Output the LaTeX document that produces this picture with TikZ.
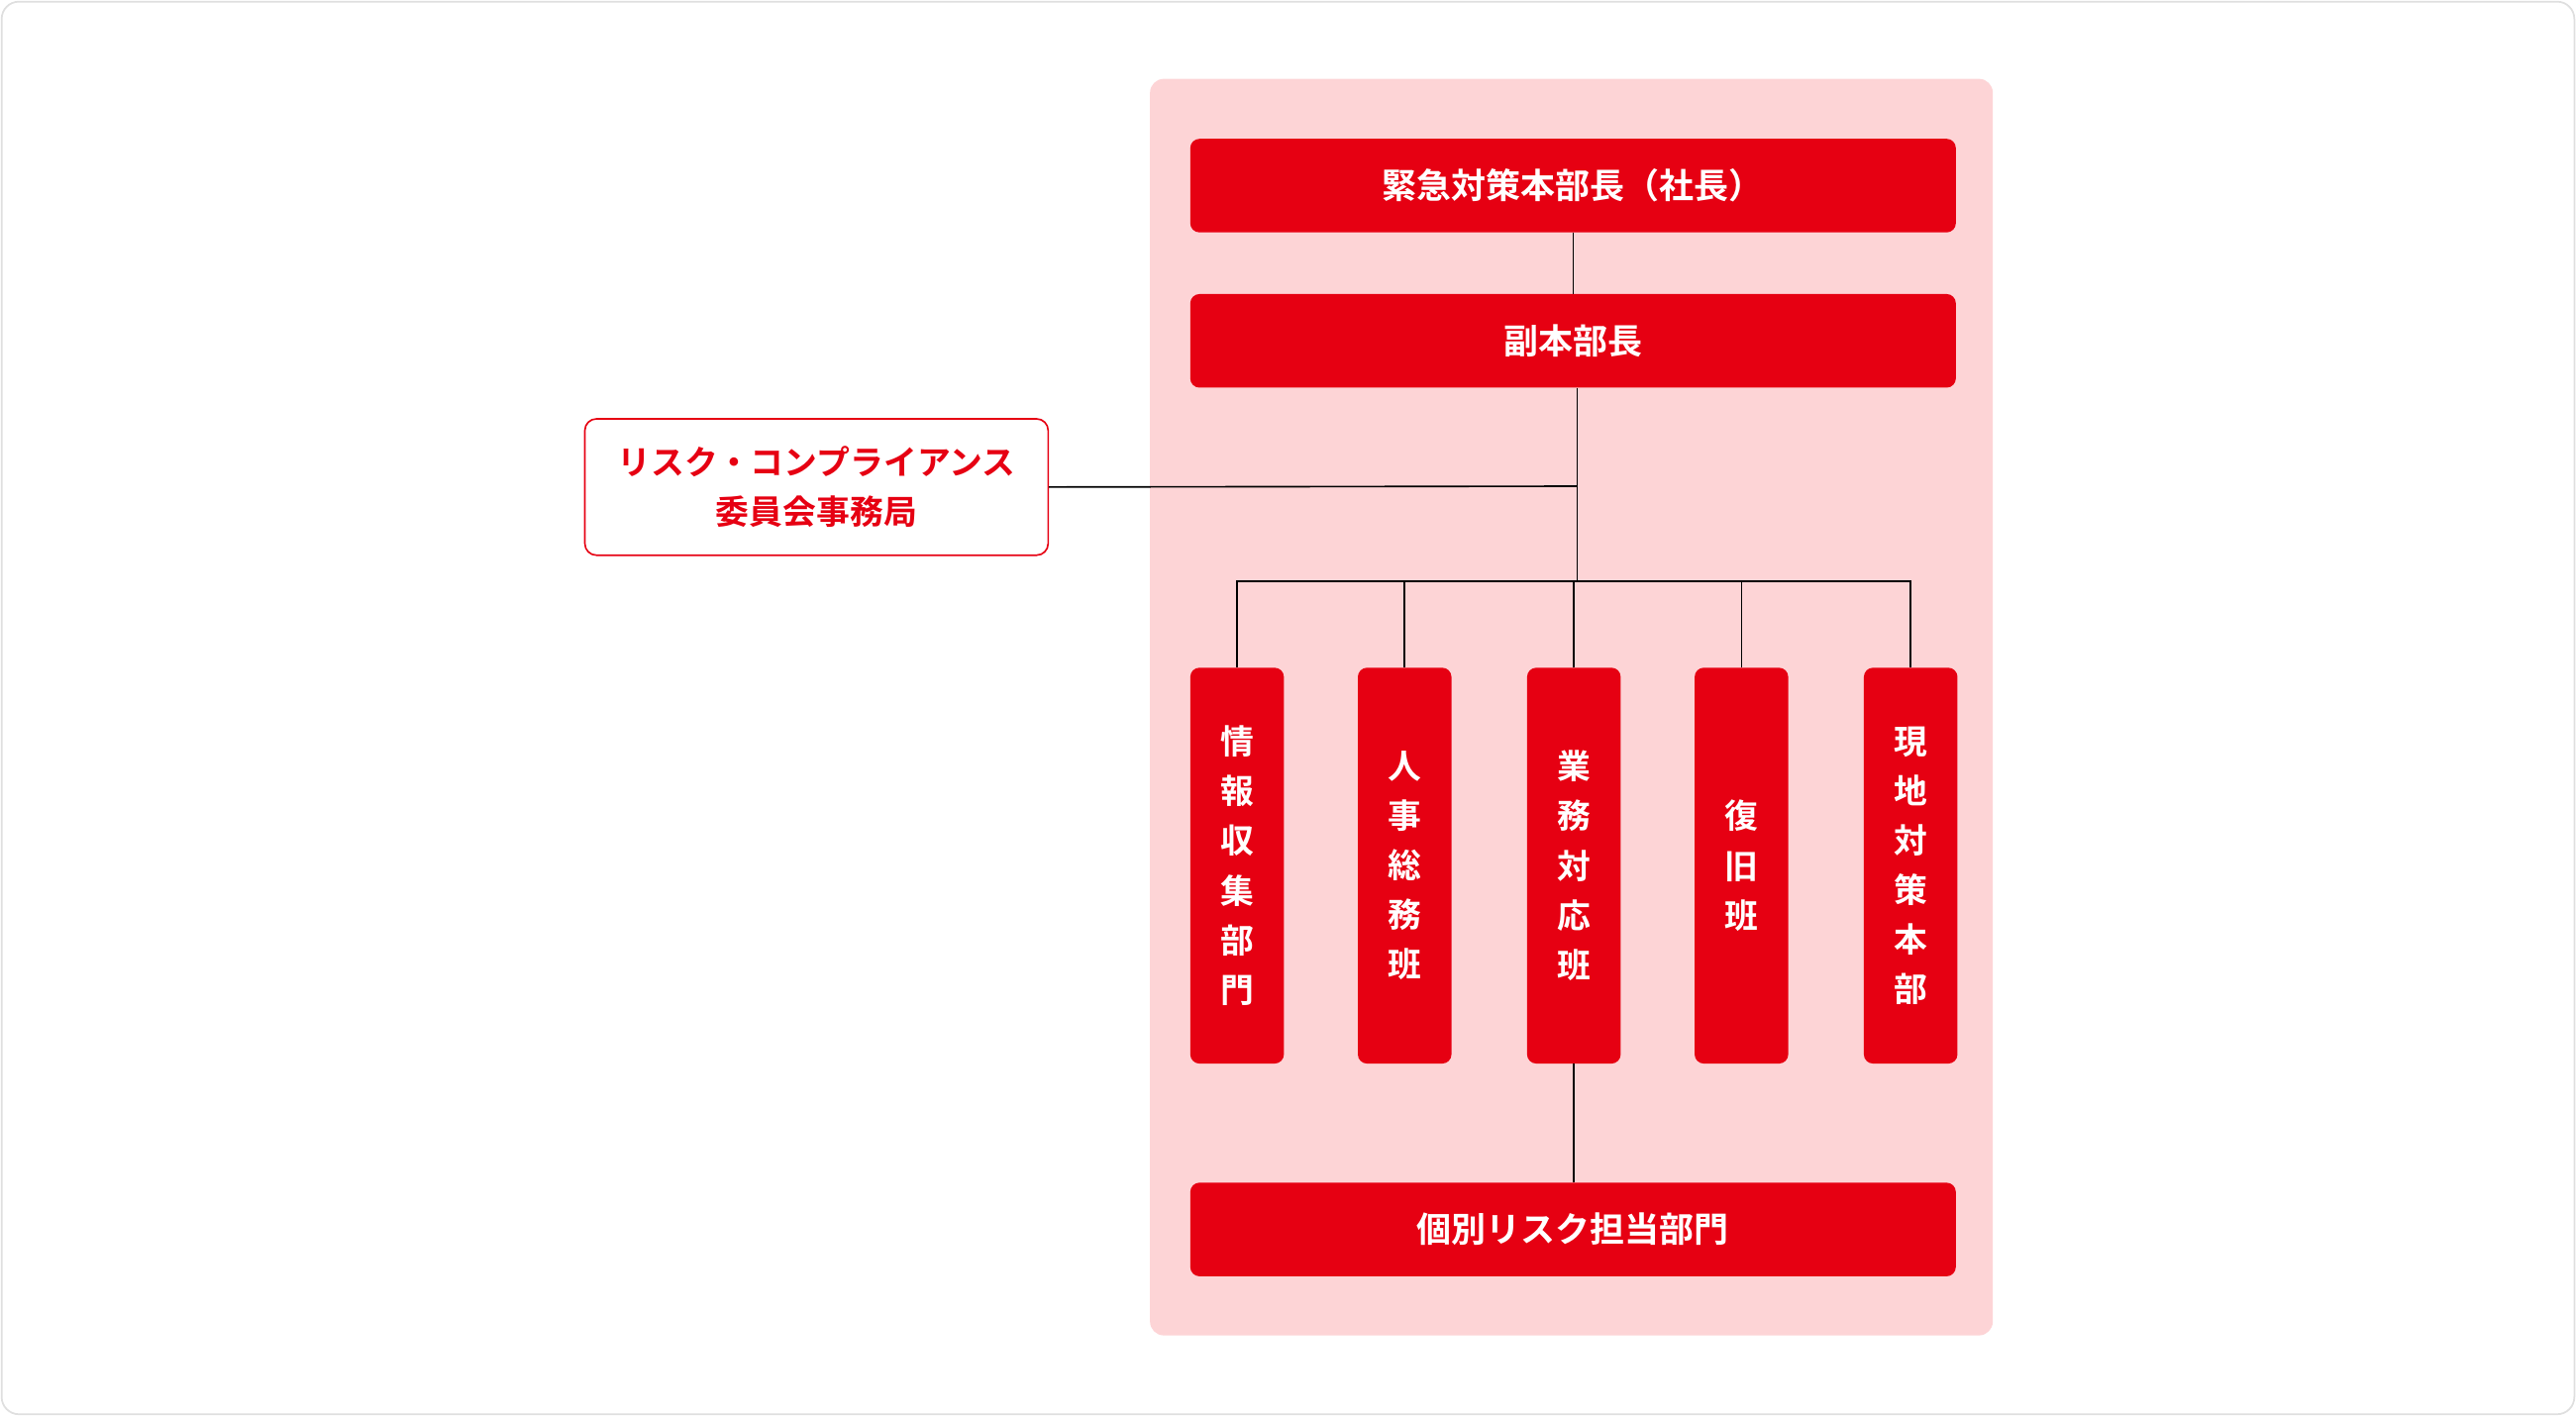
\documentclass[tikz,border=0pt]{standalone}
\usepackage{fontspec}
\setmainfont{Noto Sans CJK JP Bold}
\definecolor{cred}{HTML}{E60012}
\definecolor{cpink}{HTML}{FDD4D6}
\begin{document}
\begin{tikzpicture}[x=0.05cm,y=-0.05cm,
 redbox/.style={fill=cred,rounded corners=8,text=white,font=\fontsize{30}{36}\selectfont},
 vbox/.style={fill=cred,rounded corners=8,text=white,font=\fontsize{29}{43}\selectfont,align=center},
 ln/.style={line width=1.4pt}]
\draw[gray!25,line width=1.5pt,rounded corners=15] (1,1) rectangle (1567,861);
\useasboundingbox (0,0) rectangle (1568,862);
\fill[cpink,rounded corners=12] (700,48) rectangle (1213,813);
\node[redbox,minimum width=466*0.05cm,minimum height=57*0.05cm] (top) at (957.5,113) {緊急対策本部長（社長）};
\node[redbox,minimum width=466*0.05cm,minimum height=57*0.05cm] (vice) at (957.5,207.5) {副本部長};
\node[draw=cred,fill=white,line width=1.4pt,rounded corners=10,text=cred,align=center,font=\fontsize{29}{43}\selectfont,minimum width=282*0.05cm,minimum height=83*0.05cm] (com) at (497,296.5) {リスク・コンプライアンス\\委員会事務局};
\node[redbox,minimum width=466*0.05cm,minimum height=57*0.05cm] (bot) at (957.5,748.5) {個別リスク担当部門};
\foreach \n/\x/\t in {a/753/情\\報\\収\\集\\部\\門, b/855/人\\事\\総\\務\\班, c/958/業\\務\\対\\応\\班, d/1060/復\\旧\\班, e/1163/現\\地\\対\\策\\本\\部}
 \node[vbox,minimum width=57*0.05cm,minimum height=241*0.05cm] (\n) at (\x,527) {\t};
\coordinate (j) at (960,296);
\coordinate (h) at (960,354);
\draw[ln] (top) -- (vice);
\draw[ln] (vice.south -| j) -- (h);
\draw[ln] (com.east) -- (j);
\draw[ln] (a.north) |- (h) -| (e.north);
\foreach \n in {b,c,d} \draw[ln] (\n.north) -- (\n.north |- h);
\draw[ln] (c.south) -- (c.south |- bot.north);
\end{tikzpicture}
\end{document}
